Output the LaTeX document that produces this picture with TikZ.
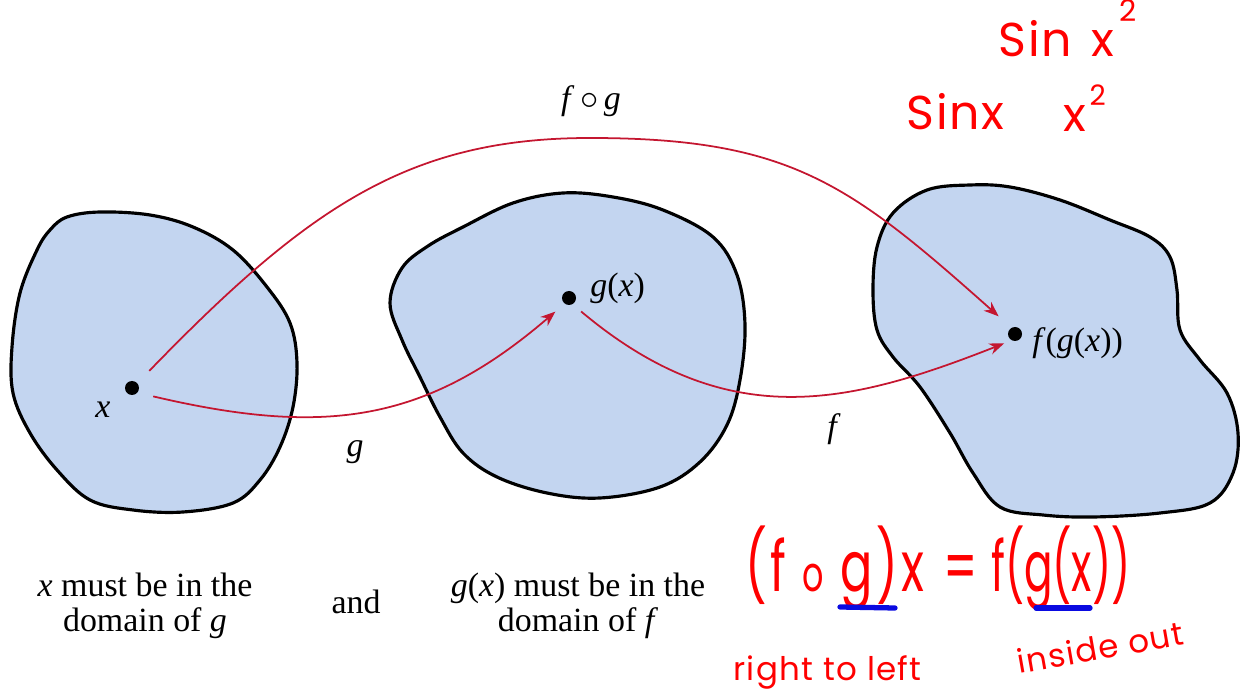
\documentclass[tikz,border=0pt]{standalone}
\usepackage{fontspec}
\setmainfont{Liberation Serif}
\newfontfamily\handfont[LetterSpace=4]{Poppins}
\newfontfamily\handnarrow[FakeStretch=0.68,LetterSpace=5]{Poppins}
\usetikzlibrary{arrows.meta}
\definecolor{domainfill}{RGB}{195,213,240}
\definecolor{mapred}{RGB}{196,22,48}
\definecolor{inkred}{RGB}{255,0,0}
\definecolor{inkblue}{RGB}{10,10,225}
\begin{document}
\begin{tikzpicture}[x=0.02cm,y=-0.02cm,
  every node/.style={inner sep=0pt,font=\fontsize{19.3}{19.6}\selectfont},
  dot/.style={circle,fill,minimum size=0.28cm},
  blob/.style={draw,line width=1.8pt,fill=domainfill},
  maparrow/.style={draw=mapred,line width=1pt,-{Stealth[length=8.5pt,width=6.5pt]}},
  hand/.style={text=inkred,font=\handfont\fontsize{27}{27}\selectfont},
  underline/.style={draw=inkblue,line width=3pt,line cap=round}]
  \useasboundingbox (0,0) rectangle (1241,695);
  % the three domains
  \draw[blob] plot[smooth cycle,tension=0.6] coordinates {(67,217) (100,212) (150,215) (193,227) (233,250) (267,287) (290,323) (297,363) (293,407) (280,447) (260,480) (233,503) (183,512) (133,510) (90,500) (57,470) (30,433) (13,393) (12,347) (20,293) (37,250) (50,230)};
  \draw[blob] plot[smooth cycle,tension=0.6] coordinates {(390,303) (402,268) (428,246) (463,227) (513,203) (563,193) (613,197) (663,210) (713,237) (737,275) (745,325) (740,380) (727,425) (700,462) (660,487) (600,498) (547,493) (497,477) (463,453) (440,417) (420,377) (402,340)};
  \draw[blob] plot[smooth cycle,tension=0.6] coordinates {(1010,187) (970,185) (927,190) (893,213) (877,247) (873,290) (877,330) (893,357) (920,387) (950,433) (973,473) (1000,507) (1043,515) (1093,517) (1160,513) (1210,503) (1233,473) (1238,433) (1227,393) (1200,360) (1180,330) (1177,290) (1170,257) (1150,237) (1110,220) (1060,200)};
  \node[dot] (px) at (132,388) {};
  \node[dot] (pgx) at (569,298) {};
  \node[dot] (pfgx) at (1015,334) {};
  \node[anchor=base] (xlab) at (103,418) {\textit{x}};
  \node[anchor=base west] (gxlab) at (590,297) {\textit{g}(\textit{x})};
  \node[anchor=base west] (fgxlab) at (1032,352) {\textit{f}(\textit{g}(\textit{x}))};
  \coordinate (fgtop) at (590,138);
  \draw[maparrow,shorten <=0.32cm,shorten >=0.24cm] (px.-40) .. controls (326,437) and (427,422) .. (pgx.-128);
  \draw[maparrow,shorten <=0.22cm,shorten >=0.16cm] (pgx.-60) .. controls (728,435) and (850,404) .. (pfgx.-118);
  \draw[maparrow,shorten <=0.34cm,shorten >=0.34cm] (px.42) .. controls (309,206) and (410,138) .. (fgtop) .. controls (790,138) and (850,184) .. (pfgx.120);
  \node[anchor=base] (glab) at (355,457) {\textit{g}};
  \node[anchor=base] (flab) at (834,438) {\textit{f}};
  \node[anchor=base] (fglab) at (591,110) {\textit{f}\,$\circ$\,\textit{g}};
  \node[align=center] (domg) at (145,606) {\textit{x} must be in the\\domain of \textit{g}};
  \node[anchor=base] (andlab) at (356,614) {and};
  \node[align=center] (domf) at (578,606) {\textit{g}(\textit{x}) must be in the\\domain of \textit{f}};
  % notes in red ink
  \node[hand,anchor=base west] (sinsq) at (998,57) {Sin\hspace{11pt}x\hspace{3pt}\raisebox{20pt}{\fontsize{17}{17}\selectfont 2}};
  \node[hand,anchor=base west] (sinx) at (906,130) {Sinx};
  \node[hand,anchor=base west] (xsq) at (1063,132) {x\hspace{2pt}\raisebox{15pt}{\fontsize{16}{16}\selectfont 2}};
  \node[hand,font=\handnarrow\fontsize{40}{40}\selectfont,anchor=base west] (compo) at (745,592) {(f {\fontsize{28}{28}\selectfont o} g)x \hspace{2pt}=\hspace{-2pt} {\addfontfeatures{FakeStretch=0.6,LetterSpace=0}f(g(x))}};
  \draw[underline] (840,607) -- (895,608);
  \draw[underline] (1036,608) -- (1090,608);
  \node[hand,font=\handfont\fontsize{18.5}{18.5}\selectfont,anchor=base west] (rtl) at (733,681) {right to left};
  \node[hand,font=\handfont\fontsize{18.5}{18.5}\selectfont,anchor=base west,rotate=10] (inout) at (1019,674) {inside out};
\end{tikzpicture}
\end{document}
